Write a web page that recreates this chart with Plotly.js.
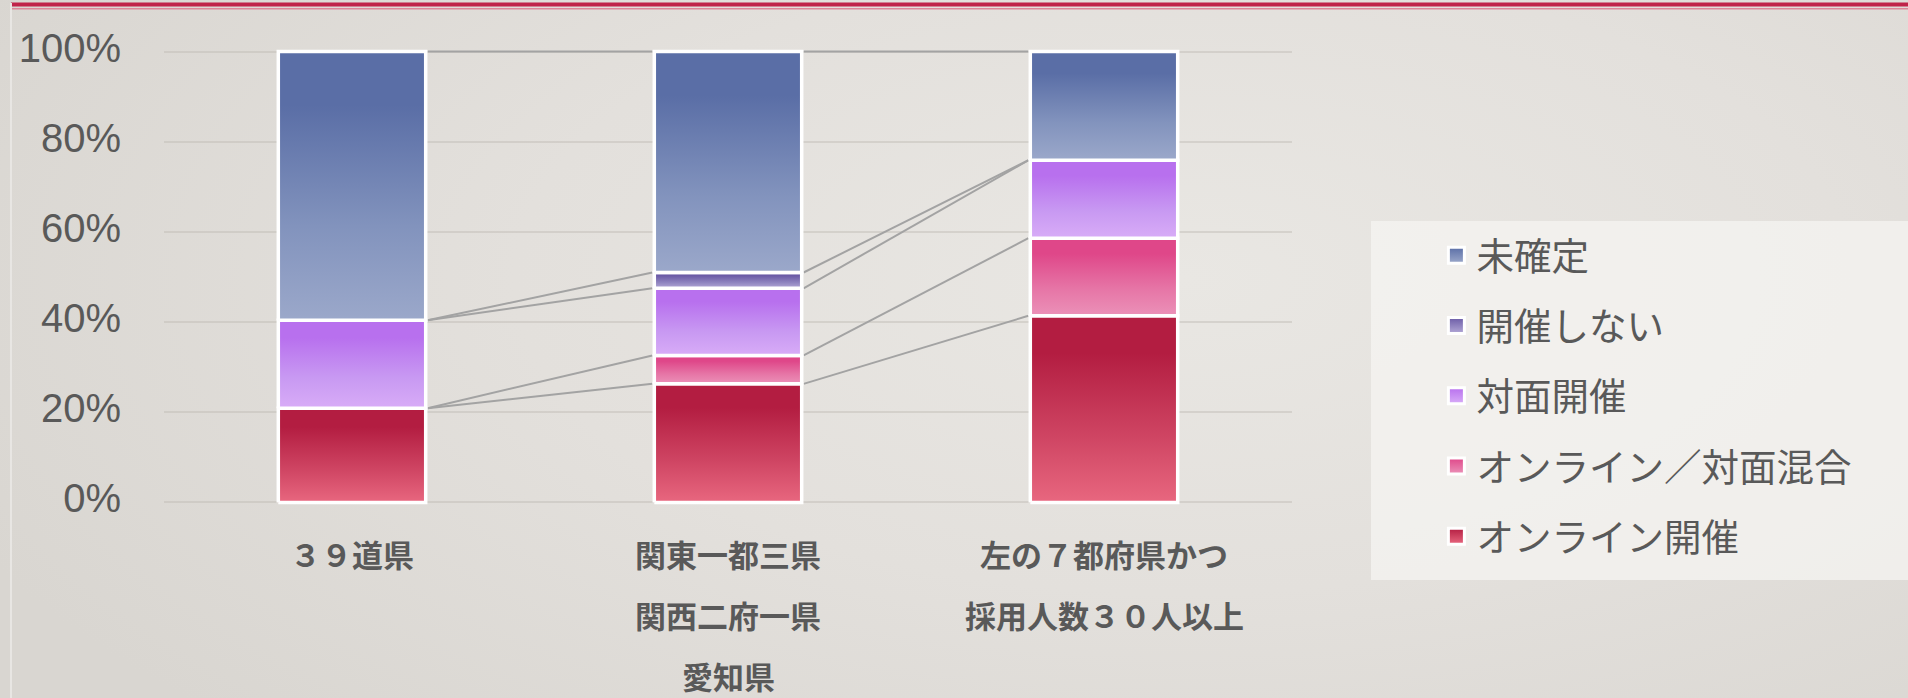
<!DOCTYPE html>
<html>
<head>
<meta charset="utf-8">
<script src="https://cdn.plot.ly/plotly-3.0.1.min.js"></script>
<style>
  html, body { margin: 0; padding: 0; }
  body {
    width: 1908px; height: 698px; overflow: hidden;
    background: radial-gradient(ellipse 70% 90% at 62% 40%, #e9e7e3 0%, #e3e0dc 50%, #d9d6d1 100%);
  }
  #chart { width: 1908px; height: 698px; }
</style>
</head>
<body>
<div id="chart"></div>
<script>
// ---- data ----
var categories = ['３９道県', '関東一都三県\n関西二府一県\n愛知県', '左の７都府県かつ\n採用人数３０人以上'];
var seriesNames = ['オンライン開催', 'オンライン／対面混合', '対面開催', '開催しない', '未確定']; // bottom -> top
var onlineVals   = [20.9, 26.3, 41.4];
var mixedVals    = [0.0,  6.3, 17.2];
var faceVals     = [19.5, 14.9, 17.3];
var noneVals     = [0.0,  3.5,  0.0];
var undecidedVals= [59.6, 49.0, 24.1];
var yTickVals = [0, 20, 40, 60, 80, 100];
var yTickText = ['0%', '20%', '40%', '60%', '80%', '100%'];

// ---- styles ----
var seriesValues = [onlineVals, mixedVals, faceVals, noneVals, undecidedVals];
var gradTop    = ['#b31d41', '#df4789', '#b870ee', '#6b5ba6', '#5a6ea6'];
var gradMid    = ['#cf4563', '#e675a6', '#c899f2', '#9085c0', '#8293bd'];
var gradBottom = ['#e8677f', '#eb91b8', '#d8acf7', '#b3a8d6', '#9ba8ca'];
var halfW = 0.196;
var textColor = '#595959';

var traces = [];
var nCat = categories.length;
var cum = [];
for (var i = 0; i < nCat; i++) cum.push(0);
var tops = []; // tops[s][i]
for (var s = 0; s < seriesValues.length; s++) {
  var tp = [];
  for (var i = 0; i < nCat; i++) {
    var y0 = cum[i], y1 = cum[i] + seriesValues[s][i];
    if (seriesValues[s][i] > 0) {
      traces.push({
        type: 'scatter', mode: 'lines', fill: 'toself',
        x: [i - halfW, i + halfW, i + halfW, i - halfW, i - halfW],
        y: [y0, y0, y1, y1, y0],
        line: {color: '#ffffff', width: 3.5},
        fillcolor: gradMid[s],
        fillgradient: {type: 'vertical', colorscale: [[0, gradBottom[s]], [0.35, gradMid[s]], [0.8, gradTop[s]], [1, gradTop[s]]]},
        legendgroup: 'g' + s, showlegend: false, hoverinfo: 'skip'
      });
    }
    cum[i] = y1;
    tp.push(y1);
  }
  tops.push(tp);
}
// series lines (connectors between bars)
var connectors = [];
for (var s = 0; s < seriesValues.length; s++) {
  for (var i = 0; i < nCat - 1; i++) {
    connectors.push({
      type: 'scatter', mode: 'lines',
      x: [i + halfW + 0.005, i + 1 - halfW - 0.005],
      y: [tops[s][i], tops[s][i + 1]],
      line: {color: '#a3a3a3', width: 2},
      showlegend: false, hoverinfo: 'skip', legendgroup: 'g' + s
    });
  }
}
// legend entries
var legendTraces = [];
for (var s = seriesValues.length - 1; s >= 0; s--) {
  legendTraces.push({
    type: 'scatter', mode: 'markers', x: [null], y: [null],
    name: seriesNames[s], legendgroup: 'g' + s,
    marker: {symbol: 'square', size: 16, color: gradTop[s],
             gradient: {type: 'vertical', color: gradBottom[s]},
             line: {color: '#ffffff', width: 3}}
  });
}
var data = connectors.concat(traces).concat(legendTraces);

// category labels as annotations (one per line)
var annotations = [];
for (var i = 0; i < nCat; i++) {
  var lines = categories[i].split('\n');
  for (var j = 0; j < lines.length; j++) {
    annotations.push({
      x: i, xref: 'x', y: 0, yref: 'paper', yanchor: 'middle',
      yshift: -51 - j * 61 + 3.6, showarrow: false, text: '<b>' + lines[j] + '</b>',
      font: {family: 'Noto Sans CJK JP', size: 31, color: textColor}
    });
  }
}

var layout = {
  width: 1908, height: 698,
  paper_bgcolor: 'rgba(0,0,0,0)', plot_bgcolor: 'rgba(0,0,0,0)',
  margin: {l: 164, r: 616, t: 48, b: 192, pad: 0},
  showlegend: true,
  xaxis: {range: [-0.5, 2.5], showgrid: false, zeroline: false, showticklabels: false, ticks: '', showline: false, fixedrange: true},
  yaxis: {range: [-0.8, 100.8], tickvals: yTickVals, ticktext: yTickText, showgrid: true,
          gridcolor: 'rgba(190,186,180,0.45)', gridwidth: 2, zeroline: false, showline: false, ticks: '',
          ticklabelstandoff: 42, ticklabelshift: -4,
          tickfont: {family: 'Liberation Sans', size: 40, color: textColor}, fixedrange: true},
  legend: {x: 1.128, xanchor: 'left', y: 0.615, yanchor: 'top', bgcolor: 'rgba(0,0,0,0)',
           traceorder: 'grouped', tracegroupgap: 18.5, itemsizing: 'trace',
           font: {family: 'Noto Sans CJK JP', size: 37.5, color: textColor}},
  annotations: annotations,
  shapes: [
    {type: 'rect', xref: 'paper', yref: 'paper', layer: 'below',
     x0: (1371 - 164) / 1128, x1: (1908 - 164) / 1128, y0: (506 - 580) / 458, y1: (506 - 221) / 458,
     fillcolor: 'rgba(245,244,242,0.75)', line: {width: 0}},
    {type: 'line', xref: 'paper', yref: 'paper', x0: (11 - 164) / 1128, x1: (1908 - 164) / 1128,
     y0: (506 - 4.5) / 458, y1: (506 - 4.5) / 458, line: {color: '#c0244a', width: 3.8}},
    {type: 'line', xref: 'paper', yref: 'paper', x0: (11 - 164) / 1128, x1: (1908 - 164) / 1128,
     y0: (506 - 8.7) / 458, y1: (506 - 8.7) / 458, line: {color: '#dd8799', width: 1.6}},
    {type: 'line', xref: 'paper', yref: 'paper', x0: (11 - 164) / 1128, x1: (11 - 164) / 1128,
     y0: (506 - 698) / 458, y1: (506 - 3) / 458, line: {color: '#e8e6e3', width: 2}}
  ]
};

Plotly.newPlot('chart', data, layout, {displayModeBar: false, staticPlot: true});
</script>
</body>
</html>
